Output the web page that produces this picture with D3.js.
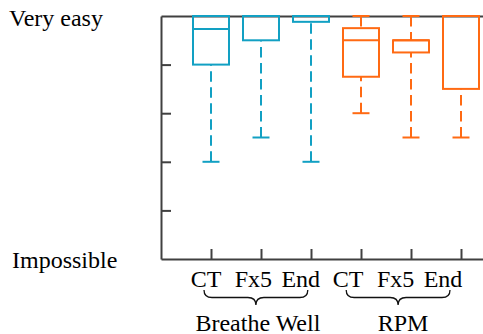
<!DOCTYPE html>
<html>
<head>
<meta charset="utf-8">
<script src="https://cdn.jsdelivr.net/npm/d3@7"></script>
<style>
  body { margin: 0; background: #fff; }
  svg text { font-family: "Liberation Serif", "DejaVu Serif", serif; }
</style>
</head>
<body>
<div id="chart"></div>
<script>
// box stats, 0 = Impossible, 5 = Very easy
let categories = ['CT', 'Fx5', 'End', 'CT', 'Fx5', 'End']
let groups = ['Breathe Well', 'RPM']
let groupOf = [0, 0, 0, 1, 1, 1]
let q1 = [4, 4.5, 4.88, 3.75, 4.25, 3.5]
let q3 = [5, 5, 5, 4.75, 4.5, 5]
let median = [4.73, 5, 5, 4.5, 4.5, 5]
let whiskerLow = [2, 2.5, 2, 3, 2.5, 2.5]
let whiskerHigh = [5, 5, 5, 5, 5, 5]
let yTicks = [1, 2, 3, 4]

let colors = ['#12a0c3', '#ff6a13']
let axisColor = '#404040'

let width = 483
let height = 334

let svg = d3
  .select('#chart')
  .append('svg')
  .attr('width', width)
  .attr('height', height)

let x = d3.scaleLinear().domain([0, 7]).range([161, 511])
let y = d3.scaleLinear().domain([0, 5]).range([259, 16])
// the category labels sit a bit left of their ticks in the original
let labelX = d3.scaleLinear().domain([1, 6]).range([206, 443])

let data = categories.map(function (c, i) {
  return {
    pos: i + 1,
    name: c,
    group: groupOf[i],
    q1: q1[i],
    q3: q3[i],
    median: median[i],
    low: whiskerLow[i],
    high: whiskerHigh[i]
  }
})

// axes / frame
function styleAxis(g) {
  g.selectAll('path, line').attr('stroke', axisColor).attr('stroke-width', 2)
  g.selectAll('text').remove()
}

svg.append('g')
  .attr('transform', 'translate(' + x(0) + ',0)')
  .call(d3.axisLeft(y).tickValues(yTicks).tickSize(-10).tickSizeOuter(0))
  .call(styleAxis)

svg.append('g')
  .attr('transform', 'translate(0,' + y(0) + ')')
  .call(d3.axisBottom(x).tickValues([1, 2, 3, 4, 5, 6]).tickSize(-10).tickSizeOuter(0))
  .call(styleAxis)

svg.append('g')
  .attr('transform', 'translate(0,' + y(5) + ')')
  .call(d3.axisTop(x).tickValues([]).tickSizeOuter(0))
  .call(styleAxis)

let boxW = 36
let capW = 17

let box = svg.selectAll('.box')
  .data(data)
  .enter()
  .append('g')
  .attr('class', 'box')
  .attr('stroke', function (d) { return colors[d.group] })
  .attr('stroke-width', 2)
  .attr('fill', 'none')

// whiskers, dashes start at the cap
box.append('line')
  .attr('x1', function (d) { return x(d.pos) })
  .attr('x2', function (d) { return x(d.pos) })
  .attr('y1', function (d) { return y(d.low) })
  .attr('y2', function (d) { return y(d.q1) })
  .attr('stroke-dasharray', '10.5,5.5')

box.filter(function (d) { return d.high > d.q3 })
  .append('line')
  .attr('x1', function (d) { return x(d.pos) })
  .attr('x2', function (d) { return x(d.pos) })
  .attr('y1', function (d) { return y(d.high) })
  .attr('y2', function (d) { return y(d.q3) })
  .attr('stroke-dasharray', '10.5,5.5')

// caps
box.append('line')
  .attr('x1', function (d) { return x(d.pos) - capW / 2 })
  .attr('x2', function (d) { return x(d.pos) + capW / 2 })
  .attr('y1', function (d) { return y(d.low) })
  .attr('y2', function (d) { return y(d.low) })

box.filter(function (d) { return d.high > d.q3 })
  .append('line')
  .attr('x1', function (d) { return x(d.pos) - capW / 2 })
  .attr('x2', function (d) { return x(d.pos) + capW / 2 })
  .attr('y1', function (d) { return y(d.high) })
  .attr('y2', function (d) { return y(d.high) })

box.append('rect')
  .attr('x', function (d) { return x(d.pos) - boxW / 2 })
  .attr('width', boxW)
  .attr('y', function (d) { return y(d.q3) })
  .attr('height', function (d) { return y(d.q1) - y(d.q3) })

box.append('line')
  .attr('x1', function (d) { return x(d.pos) - boxW / 2 })
  .attr('x2', function (d) { return x(d.pos) + boxW / 2 })
  .attr('y1', function (d) { return y(d.median) })
  .attr('y2', function (d) { return y(d.median) })

// y end labels
svg.append('text')
  .attr('x', 9)
  .attr('y', y(5) + 10)
  .attr('font-size', '24px')
  .text('Very easy')

svg.append('text')
  .attr('x', 12)
  .attr('y', y(0) + 9)
  .attr('font-size', '24px')
  .text('Impossible')

// category labels
svg.selectAll('.cat')
  .data(data)
  .enter()
  .append('text')
  .attr('class', 'cat')
  .attr('x', function (d) { return labelX(d.pos) })
  .attr('y', 287)
  .attr('text-anchor', 'middle')
  .attr('font-size', '24px')
  .text(function (d) { return d.name })

// braces + group names
function brace(x1, x2, y0, h) {
  let m = (x1 + x2) / 2
  let r = 8
  let yh = y0 + h / 2
  return 'M' + x1 + ',' + y0 +
    ' Q' + x1 + ',' + yh + ' ' + (x1 + r) + ',' + yh +
    ' L' + (m - r) + ',' + yh +
    ' Q' + m + ',' + yh + ' ' + m + ',' + (y0 + h) +
    ' Q' + m + ',' + yh + ' ' + (m + r) + ',' + yh +
    ' L' + (x2 - r) + ',' + yh +
    ' Q' + x2 + ',' + yh + ' ' + x2 + ',' + y0
}

let groupData = groups.map(function (g, i) {
  let members = data.filter(function (d) { return d.group === i })
  return {
    name: g,
    x1: labelX(members[0].pos) - 2,
    x2: labelX(members[members.length - 1].pos) + 7
  }
})

svg.selectAll('.brace')
  .data(groupData)
  .enter()
  .append('path')
  .attr('class', 'brace')
  .attr('d', function (d) { return brace(d.x1, d.x2, 290, 15) })
  .attr('fill', 'none')
  .attr('stroke', '#111')
  .attr('stroke-width', 1.3)

svg.selectAll('.group')
  .data(groupData)
  .enter()
  .append('text')
  .attr('class', 'group')
  .attr('x', function (d, i) { return (d.x1 + d.x2) / 2 + (i === 1 ? 5 : 2) })
  .attr('y', 331)
  .attr('text-anchor', 'middle')
  .attr('font-size', '24px')
  .text(function (d) { return d.name })
</script>
</body>
</html>
